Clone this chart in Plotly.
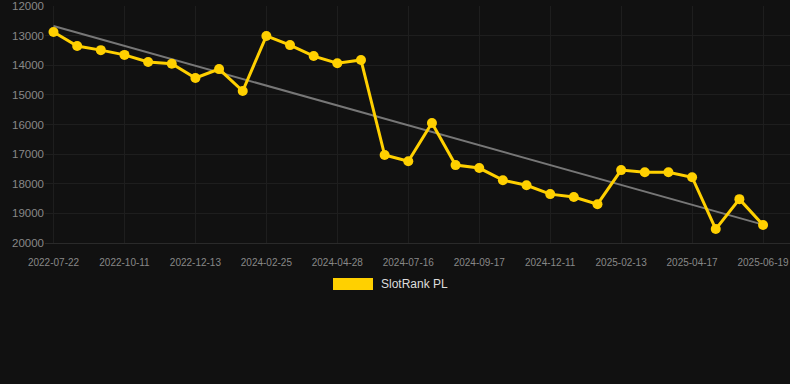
import numpy as np
import plotly.graph_objects as go

tick_labels = ["2022-07-22", "2022-10-11", "2022-12-13", "2024-02-25", "2024-04-28",
               "2024-07-16", "2024-09-17", "2024-12-11", "2025-02-13", "2025-04-17", "2025-06-19"]
rank = [12880, 13350, 13490, 13650, 13890, 13950, 14430, 14130, 14870, 13010,
        13320, 13690, 13930, 13820, 17030, 17240, 15950, 17370, 17470, 17880,
        18050, 18350, 18450, 18690, 17540, 17610, 17610, 17780, 19530, 18520, 19390]
series_name = "SlotRank PL"

x = np.arange(len(rank))
coef = np.polyfit(x, rank, 1)
trend = np.polyval(coef, x)

fig = go.Figure()
fig.add_trace(go.Scatter(x=[x[0], x[-1]], y=[trend[0], trend[-1]], mode="lines",
                         line=dict(color="#777777", width=2), hoverinfo="skip", showlegend=False))
fig.add_trace(go.Scatter(x=x, y=rank, mode="lines+markers", name=series_name,
                         line=dict(color="#FFD000", width=3),
                         marker=dict(color="#FFD000", size=10), showlegend=False))

fig.add_shape(type="rect", xref="paper", yref="paper", x0=(333-45)/745, x1=(373-45)/745,
              y0=(243-290)/237, y1=(243-278)/237, fillcolor="#FFD000", line=dict(width=0))
fig.add_annotation(xref="paper", yref="paper", x=(379-45)/745, y=(243-284)/237,
                   text=series_name, showarrow=False, xanchor="left", yanchor="middle",
                   font=dict(family="Arial, Liberation Sans, sans-serif", size=12, color="#dddddd"))

fig.update_layout(
    width=790, height=384,
    margin=dict(l=45, r=0, t=6, b=141),
    paper_bgcolor="#111111", plot_bgcolor="#111111",
    font=dict(family="Arial, Liberation Sans, sans-serif", color="#888888"),
    xaxis=dict(range=[-0.36, 31.14], tickmode="array", tickvals=list(range(0, 31, 3)),
               ticktext=tick_labels, showgrid=True, gridcolor="#1e1e1e", gridwidth=1,
               zeroline=False, showline=True, linecolor="#2a2a2a", linewidth=1,
               tickfont=dict(size=10, color="#888888"),
               ticks="", ticklabelstandoff=10),
    yaxis=dict(range=[20000, 12000], tickvals=list(range(12000, 20001, 1000)),
               tickformat="d",
               showgrid=True, gridcolor="#1e1e1e", zeroline=False, showline=False,
               tickfont=dict(size=11.5, color="#888888"), ticks=""),
    showlegend=False,
)
fig.write_html("out.html", config={"displayModeBar": False},
               post_script="document.body.style.margin='0';document.body.style.background='#111111';")
